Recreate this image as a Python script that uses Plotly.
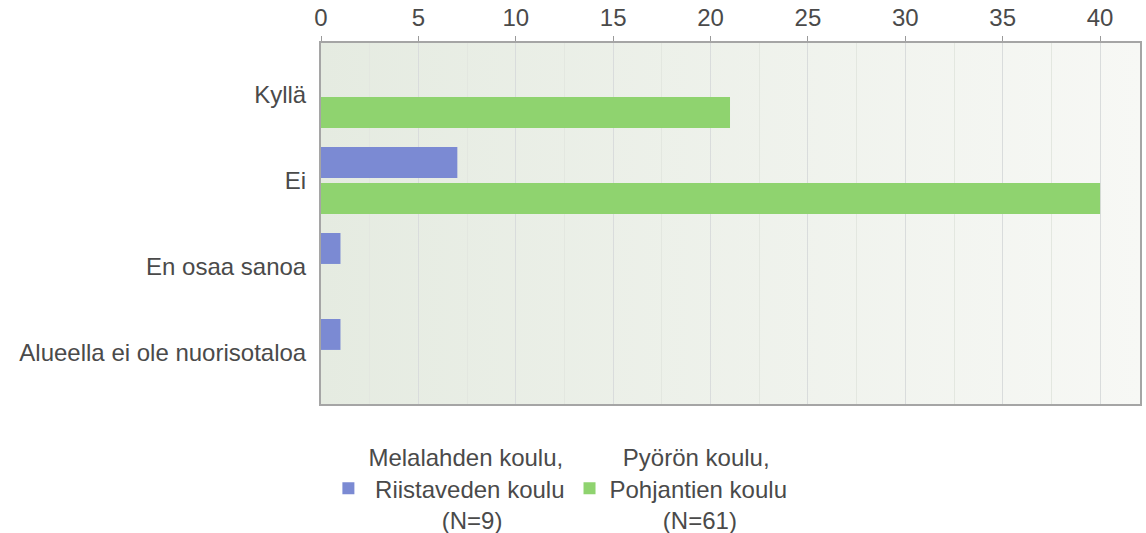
import plotly.graph_objects as go

categories = ["Kyllä", "Ei", "En osaa sanoa", "Alueella ei ole nuorisotaloa"]
NB = "\u00a0"
series_names = [
    "Melalahden koulu,<br>" + NB + "Riistaveden koulu<br>" + NB * 11 + "(N=9)",
    NB * 2 + "Pyörön koulu,<br>" + "Pohjantien koulu<br>" + NB * 8 + "(N=61)",
]
melalahden_values = [0, 7, 1, 1]
pyoron_values = [21, 40, 0, 0]
x_ticks = [0, 5, 10, 15, 20, 25, 30, 35, 40]

blue = "#7b8ad3"
green = "#8fd36f"
font_family = "Liberation Sans, Arial, sans-serif"
text_color = "#4a4a4a"
fsize = 24

fig = go.Figure()
fig.add_trace(go.Bar(
    y=categories, x=melalahden_values, orientation="h",
    name=series_names[0], marker=dict(color=blue, line=dict(width=0)),
))
fig.add_trace(go.Bar(
    y=categories, x=pyoron_values, orientation="h",
    name=series_names[1], marker=dict(color=green, line=dict(width=0)),
))

grad_svg = (
    "data:image/svg+xml;utf8,"
    "<svg xmlns='http://www.w3.org/2000/svg' width='100' height='100' preserveAspectRatio='none'>"
    "<defs><linearGradient id='g' x1='0' y1='0' x2='1' y2='0'>"
    "<stop offset='0' stop-color='%23e5ebe1'/><stop offset='1' stop-color='%23f7f8f5'/>"
    "</linearGradient></defs><rect width='100' height='100' fill='url(%23g)'/></svg>"
)

fig.update_layout(
    width=1146, height=533,
    margin=dict(l=321, r=6, t=43, b=129, autoexpand=False),
    paper_bgcolor="white",
    plot_bgcolor="#eff2ed",
    barmode="group",
    bargap=0.163,
    bargroupgap=0.14,
    font=dict(family=font_family, size=fsize, color=text_color),
    showlegend=True,
    legend=dict(
        orientation="h",
        xref="container", x=0.489, xanchor="center",
        yref="container", y=0.184, yanchor="top",
        valign="middle",
        font=dict(family=font_family, size=fsize, color=text_color),
        itemclick=False, itemdoubleclick=False,
        tracegroupgap=0,
    ),
    images=[dict(
        source=grad_svg, xref="paper", yref="paper",
        x=0, y=1, sizex=1, sizey=1, xanchor="left", yanchor="top",
        sizing="stretch", layer="below",
    )],
    xaxis=dict(
        side="top",
        range=[0, 42.05],
        tickvals=x_ticks,
        ticktext=[str(v) for v in x_ticks],
        ticks="outside", ticklen=5, tickcolor="#9a9a9a", tickwidth=1,
        showline=True, linecolor="#a5a5a5", linewidth=2, mirror=True,
        showgrid=True, gridcolor="#d9dcdc", gridwidth=1,
        minor=dict(dtick=2.5, showgrid=True, gridcolor="#e3e7e0", gridwidth=1, ticks=""),
        zeroline=False, automargin=False, tickangle=0,
        tickfont=dict(family=font_family, size=fsize, color=text_color),
        fixedrange=True,
    ),
    yaxis=dict(
        type="category",
        categoryorder="array", categoryarray=categories,
        range=[3.6, -0.6],
        showline=True, linecolor="#a5a5a5", linewidth=2, mirror=True,
        showgrid=False, zeroline=False, automargin=False,
        ticks="", ticklabelstandoff=8,
        tickfont=dict(family=font_family, size=fsize, color=text_color),
        fixedrange=True,
    ),
)

fig.write_html(
    "out.html",
    config={"displayModeBar": False},
    post_script="document.body.style.margin='0';document.body.style.overflow='hidden';",
)
